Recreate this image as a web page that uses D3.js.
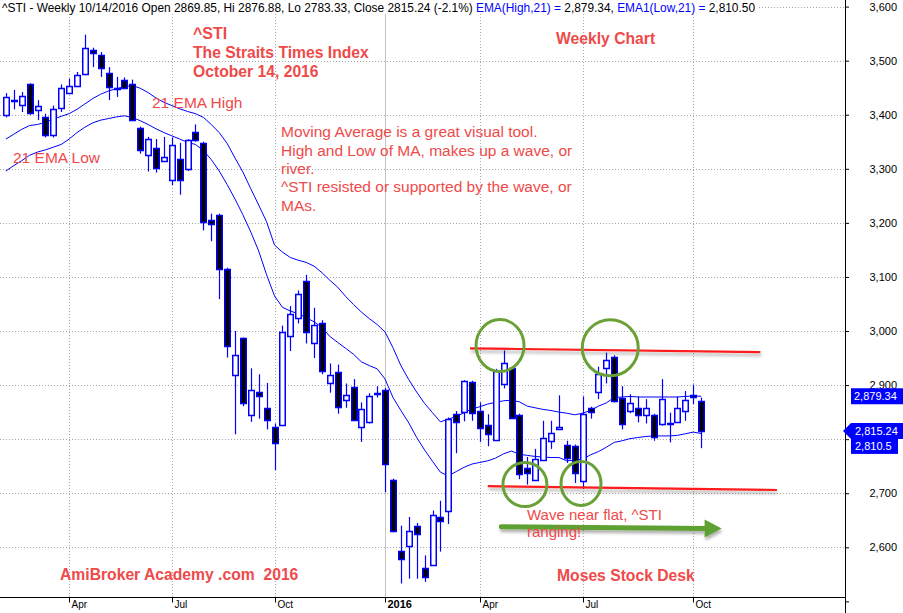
<!DOCTYPE html>
<html><head><meta charset="utf-8">
<script src="https://cdn.jsdelivr.net/npm/d3@7/dist/d3.min.js"></script>
<style>
body{margin:0;background:#fff;}
svg{display:block;font-family:"Liberation Sans",Arial,sans-serif;}
</style>
</head><body>
<svg id="c" width="903" height="613"></svg>
<script>
// ---- data (weekly bars, 6 Feb 2015 .. 14 Oct 2016) ----
const opens = [3398,3427,3418,3456,3408,3395,3362,3413,3441,3453,
3476,3519,3511,3478,3449,3465,3457,3375,3325,3338,
3314,3279,3319,3300,3368,3348,3205,3215,3115,2919,
2987,2844,2888,2857,2823,2826,2992,3024,3093,2978,
3015,2905,2924,2872,2897,2822,2831,2884,2890,2725,
2594,2603,2639,2562,2567,2656,2668,2846,2851,2906,
2852,2826,2799,2903,2932,2844,2746,2726,2762,2797,
2819,2789,2787,2723,2857,2886,2932,2952,2877,2852,
2858,2845,2845,2828,2830,2832,2853,2881,2869.85];
const highs = [3440,3446,3442,3458,3427,3402,3417,3456,3467,3479,
3548,3524,3516,3488,3470,3469,3465,3378,3359,3355,
3359,3358,3348,3355,3382,3350,3217,3217,3117,3000,
2988,2931,2920,2904,2829,3010,3046,3075,3104,3043,
3020,2940,2938,2903,2911,2868,2885,2898,2895,2727,
2640,2656,2645,2585,2668,2686,2840,2852,2909,2908,
2868,2846,2930,2964,2934,2847,2767,2782,2834,2834,
2881,2797,2790,2879,2860,2934,2960,2955,2898,2883,
2879,2874,2847,2911,2849,2879,2889,2901,2876.88];
const lows = [3395,3410,3405,3400,3390,3358,3358,3405,3440,3452,
3473,3488,3470,3427,3433,3448,3390,3328,3295,3293,
3313,3270,3252,3296,3350,3186,3166,3059,2951,2809,
2861,2832,2838,2818,2743,2825,2963,3014,2977,2950,
2920,2886,2847,2858,2836,2795,2829,2877,2702,2628,
2533,2542,2542,2536,2566,2592,2643,2774,2833,2834,
2795,2787,2797,2894,2838,2726,2716,2725,2762,2782,
2818,2756,2719,2708,2838,2874,2903,2868,2818,2848,
2831,2829,2797,2825,2794,2830,2834,2865,2783.33];
const closes = [3432,3428,3434,3402,3416,3362,3411,3450,3454,3473,
3524,3513,3487,3453,3447,3450,3391,3335,3355,3301,
3322,3344,3281,3353,3353,3202,3198,3115,2972,2956,
2866,2890,2881,2835,2794,2998,3032,3069,2999,3011,
2927,2919,2860,2881,2836,2855,2879,2886,2753,2631,
2579,2631,2625,2545,2660,2649,2838,2831,2908,2849,
2820,2809,2926,2941,2840,2734,2737,2764,2803,2811,
2823,2765,2737,2847,2849,2920,2946,2871,2829,2867,
2845,2858,2805,2875,2828,2858,2873,2877,2815.24];
const emaHigh = [3355,3364,3373,3380,3382,3386,3392,3397,3402,3410,
3420,3430,3438,3444,3448,3452,3454,3449,3441,3431,
3423,3417,3411,3406,3402,3395,3382,3367,3347,3320,
3294,3263,3233,3202,3159,3146,3136,3131,3127,3120,
3108,3094,3081,3064,3049,3035,3023,3012,2998,2969,
2936,2910,2887,2866,2849,2832,2837,2842,2849,2856,
2860,2865,2868,2871,2872,2869,2861,2858,2855,2853,
2850,2848,2845,2848,2853,2861,2867,2877,2878,2879,
2878,2878,2878,2878,2878,2878,2879,2880,2879.34];
const emaLow = [3296,3306,3315,3325,3331,3335,3340,3345,3355,3367,
3377,3385,3390,3393,3396,3398,3395,3389,3382,3374,
3367,3361,3355,3349,3345,3334,3317,3296,3271,3244,
3215,3183,3148,3104,3065,3044,3037,3032,3025,3017,
3007,2990,2979,2968,2957,2943,2936,2930,2911,2877,
2853,2830,2803,2780,2759,2739,2732,2740,2748,2754,
2757,2760,2765,2773,2778,2772,2770,2768,2767,2766,
2766,2760,2761,2763,2771,2777,2785,2794,2797,2801,
2803,2805,2806,2806,2806,2807,2810,2813,2810.5];
const tickBars = [8,21,34,48,60,73,87];
const tickLabels = ["Apr","Jul","Oct","2016","Apr","Jul","Oct"];
const priceTicks = [2500,2600,2700,2800,2900,3000,3100,3200,3300,3400,3500,3600];
const hiddenPriceLabels = [2500,2800]; // covered / off-panel in the reference
const gridPrices = [2600,2700,2800,2900,3000,3100,3200,3300,3400,3500,3600];
// annotations in data space (bar index, price)
const resistance = [[58.75,2968],[95.5,2961]];
const support = [[61.0,2713],[97.6,2706]];
const circles = [[62.55,2973,24,26],[76.5,2969,28,28],[65.7,2716,22,22],[72.8,2718,20,22]];
const arrowPts = [[62.7,2638],[90.6,2635]];

const svg = d3.select("#c");
const plotR = 845, axisY = 597;
const x = d3.scaleLinear().domain([0,88]).range([5.9, 5.9+88*7.9]);
const y = d3.scaleLinear().domain([2600,3600]).range([547.3,6.6]);
const px = v => Math.round(x(v)) + 0.5;
const py = v => Math.round(y(v)) + 0.5;
const red = "#ef4a4a", blue = "#0000ff";

svg.append("rect").attr("width",903).attr("height",613).attr("fill","#fff");

const defs = svg.append("defs");
const f = defs.append("filter").attr("id","sh").attr("x","-10%").attr("y","-50%").attr("width","120%").attr("height","300%");
f.append("feDropShadow").attr("dx",1).attr("dy",3).attr("stdDeviation",1.5).attr("flood-color","#000").attr("flood-opacity",0.3);

// grid
svg.append("g").selectAll("line").data(gridPrices).join("line")
  .attr("x1",0).attr("x2",plotR).attr("y1",d=>py(d)).attr("y2",d=>py(d))
  .attr("stroke","#a9a9a9").attr("stroke-dasharray","1,2");
svg.append("g").selectAll("line").data(tickBars).join("line")
  .attr("x1",d=>px(d)).attr("x2",d=>px(d)).attr("y1",14).attr("y2",axisY)
  .attr("stroke",(d,i)=>tickLabels[i]==="2016"?"#c4c4c4":"#a9a9a9")
  .attr("stroke-dasharray",(d,i)=>tickLabels[i]==="2016"?null:"1,2");

// EMA lines
const line = d3.line().x((d,i)=>x(i)).y(d=>y(d));
svg.append("path").datum(emaHigh).attr("d",line).attr("fill","none").attr("stroke",blue).attr("stroke-width",1);
svg.append("path").datum(emaLow).attr("d",line).attr("fill","none").attr("stroke",blue).attr("stroke-width",1);

// candles
const bars = d3.range(opens.length);
const cg = svg.append("g");
cg.selectAll("line").data(bars).join("line")
  .attr("x1",i=>px(i)).attr("x2",i=>px(i))
  .attr("y1",i=>y(highs[i])).attr("y2",i=>y(lows[i]))
  .attr("stroke",blue).attr("stroke-width",1.2);
cg.selectAll("rect").data(bars).join("rect")
  .attr("x",i=>px(i)-2.75).attr("width",5.5)
  .attr("y",i=>Math.round(y(Math.max(opens[i],closes[i])))+0.5)
  .attr("height",i=>Math.max(1,Math.round(Math.abs(y(opens[i])-y(closes[i])))))
  .attr("fill",i=>closes[i]<opens[i]?"#000":"#fff")
  .attr("stroke",blue).attr("stroke-width",1.5);

// annotations: red lines, circles, arrow
[resistance,support].forEach(seg=>{
  svg.append("line").attr("x1",x(seg[0][0])).attr("y1",y(seg[0][1])).attr("x2",x(seg[1][0])).attr("y2",y(seg[1][1]))
    .attr("stroke","#ff1a1a").attr("stroke-width",2.2).attr("filter","url(#sh)");
});
svg.append("g").selectAll("ellipse").data(circles).join("ellipse")
  .attr("cx",d=>x(d[0])).attr("cy",d=>y(d[1])).attr("rx",d=>d[2]).attr("ry",d=>d[3])
  .attr("fill","none").attr("stroke","#6aa136").attr("stroke-width",3);
const ax1 = x(arrowPts[0][0]), ay1 = y(arrowPts[0][1]), ax2 = x(arrowPts[1][0]), ay2 = y(arrowPts[1][1]);
const ag = svg.append("g").attr("filter","url(#sh)");
ag.append("line").attr("x1",ax1).attr("y1",ay1).attr("x2",ax2-14).attr("y2",ay2)
  .attr("stroke","#5fa030").attr("stroke-width",5).attr("stroke-linecap","round");
ag.append("path").attr("d",`M${ax2},${ay2} L${ax2-17},${ay2-9} L${ax2-17},${ay2+9} Z`).attr("fill","#5fa030");

// right axis
const ra = svg.append("g").attr("transform",`translate(${plotR},0)`)
  .call(d3.axisRight(y).tickValues(priceTicks).tickFormat(d3.format(",")).tickSize(4).tickPadding(0));
ra.select(".domain").remove();
ra.selectAll(".tick line").attr("stroke","#000");
ra.selectAll(".tick text").attr("x",52).attr("text-anchor","end").attr("font-size",11)
  .attr("font-family","'Liberation Sans',Arial,sans-serif").attr("fill","#000");
ra.selectAll(".tick text").filter(d=>hiddenPriceLabels.includes(d)).remove();
svg.append("line").attr("x1",plotR+0.5).attr("x2",plotR+0.5).attr("y1",0).attr("y2",613).attr("stroke","#000");

// bottom axis
const ba = svg.append("g").attr("transform",`translate(0,${axisY+0.5})`)
  .call(d3.axisBottom(x).tickValues(tickBars).tickFormat((d,i)=>tickLabels[i]).tickSize(5).tickPadding(1));
ba.select(".domain").remove();
ba.selectAll(".tick").attr("transform",d=>`translate(${px(d)},0)`);
ba.selectAll(".tick line").attr("stroke","#000");
ba.selectAll(".tick text").attr("text-anchor","start").attr("x",2).attr("y",3)
  .attr("font-size",(d,i)=>tickLabels[i]==="2016"?11:10)
  .attr("font-weight",(d,i)=>tickLabels[i]==="2016"?"bold":"normal")
  .attr("font-family","'Liberation Sans',Arial,sans-serif").attr("fill","#000");
svg.append("line").attr("x1",0).attr("x2",plotR).attr("y1",axisY+0.5).attr("y2",axisY+0.5).attr("stroke","#000");

// value boxes at right
const n = opens.length-1;
const fmt2 = d3.format(",.2f");
const yEH = y(emaHigh[n]), yC = y(closes[n]);
svg.append("rect").attr("x",851).attr("y",yEH-8).attr("width",52).attr("height",16).attr("fill",blue);
svg.append("text").attr("x",854).attr("y",yEH+4).attr("fill","#fff").attr("font-size",11).text(fmt2(emaHigh[n]));
svg.append("path").attr("d",`M843,${yC} L851,${yC-8} L903,${yC-8} L903,${yC+8} L851,${yC+8} Z`).attr("fill",blue);
svg.append("text").attr("x",855).attr("y",yC+4).attr("fill","#fff").attr("font-size",11).text(fmt2(closes[n]));
svg.append("rect").attr("x",851).attr("y",yC+8).attr("width",47).attr("height",15).attr("fill",blue);
svg.append("text").attr("x",855).attr("y",yC+19.5).attr("fill","#fff").attr("font-size",11).text(d3.format(",")(emaLow[n]));

// header
const hbg = svg.append("rect").attr("x",0).attr("y",0).attr("height",14).attr("fill","#fff");
const ht = svg.append("text").attr("x",2).attr("y",12).attr("font-size",11.9).attr("fill","#000");
ht.append("tspan").text(`^STI - Weekly 10/14/2016 Open ${opens[n]}, Hi ${highs[n]}, Lo ${lows[n]}, Close ${closes[n]} (-2.1%) `);
ht.append("tspan").attr("fill",blue).text("EMA(High,21) = ");
ht.append("tspan").text(fmt2(emaHigh[n])+", ");
ht.append("tspan").attr("fill",blue).text("EMA1(Low,21) = ");
ht.append("tspan").text(fmt2(emaLow[n]));
hbg.attr("width", ht.node().getComputedTextLength()+4);

// annotation texts
const T = (tx,ty,s,size,bold)=>svg.append("text").attr("x",tx).attr("y",ty).attr("fill",red)
  .attr("font-size",size).attr("font-weight",bold?"bold":"normal")
  .attr("xml:space","preserve").style("white-space","pre").text(s);
T(193,39,"^STI",16,true);
T(193,58,"The Straits Times Index",15.7,true);
T(193,77,"October 14, 2016",15.7,true);
T(556,44,"Weekly Chart",15.7,true);
T(152,107.5,"21 EMA High",15.5,false);
T(13,162.5,"21 EMA Low",15.5,false);
["Moving Average is a great visual tool.","High and Low of MA, makes up a wave, or","river.","^STI resisted or supported by the wave, or","MAs."]
  .forEach((s,i)=>T(281,137.3+i*18.35,s,15.5,false));
T(527,519.5,"Wave near flat, ^STI",15,false);
T(527,537,"ranging!",15,false);
T(60,580,"AmiBroker Academy .com  2016",15.7,true);
T(557,581,"Moses Stock Desk",15.7,true);
</script>
</body></html>
